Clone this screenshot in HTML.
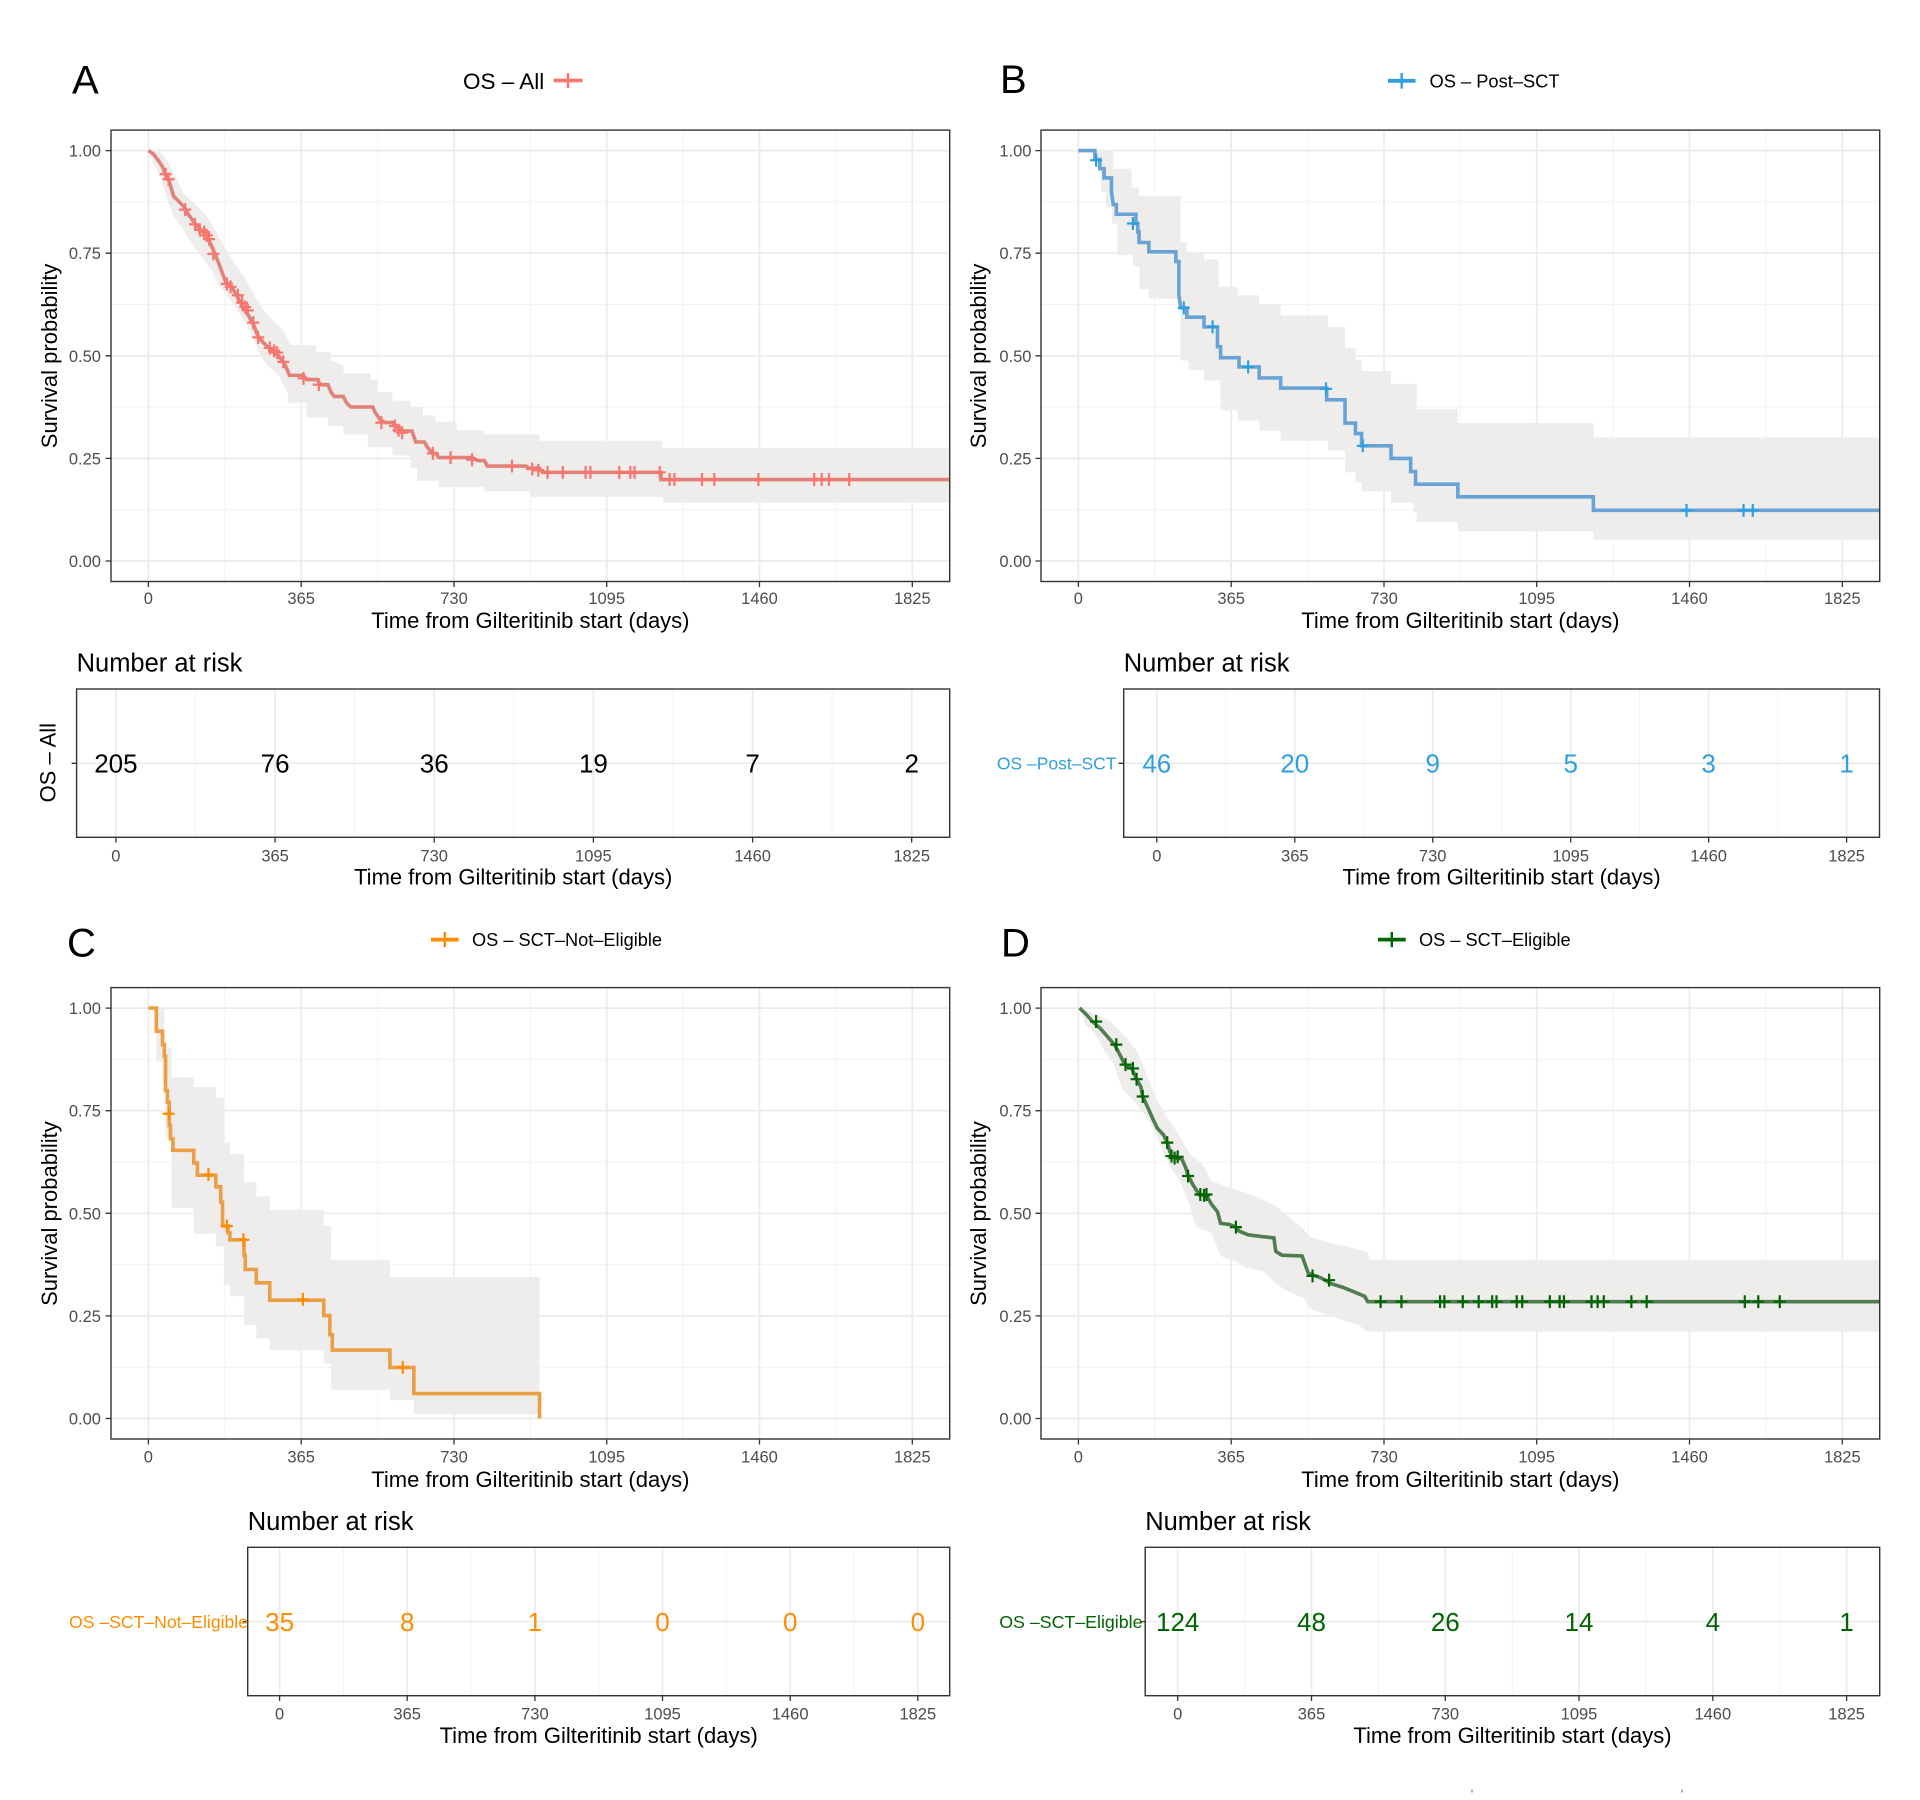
<!DOCTYPE html>
<html>
<head>
<meta charset="utf-8">
<style>
html,body{margin:0;padding:0;background:#fff;}
body{width:1920px;height:1800px;overflow:hidden;}
svg{display:block;}
.gmaj{stroke:#ebebeb;stroke-width:1.7;fill:none;}
.gmin{stroke:#f3f3f3;stroke-width:1;fill:none;}
.tk{stroke:#333;stroke-width:1.3;fill:none;}
.bd{fill:none;stroke:#333;stroke-width:1.4;}
.tl{font-size:16.5px;fill:#4d4d4d;}
.at{font-size:22px;fill:#000;}
.nr{font-size:25.5px;fill:#000;}
.num{font-size:26px;}
.band{fill:#eeedec;stroke:none;}
.crv{fill:none;stroke-width:3.6;stroke-linejoin:miter;}
.crs{fill:none;stroke-width:2.2;}
</style>
</head>
<body>
<svg xmlns="http://www.w3.org/2000/svg" width="1920" height="1800" viewBox="0 0 1920 1800" font-family="'Liberation Sans', Arial, Helvetica, sans-serif">
<defs>
<g id="grid">
<rect x="111" y="130.1" width="838.7" height="451.4" fill="#fff"/>
<path class="gmin" d="M224.8,130.1V581.5M377.6,130.1V581.5M530.4,130.1V581.5M683.1,130.1V581.5M835.9,130.1V581.5M111,201.9H949.7M111,304.5H949.7M111,407.1H949.7M111,509.7H949.7"/>
<path class="gmaj" d="M148.4,130.1V581.5M301.2,130.1V581.5M454,130.1V581.5M606.7,130.1V581.5M759.5,130.1V581.5M912.3,130.1V581.5M111,150.6H949.7M111,253.2H949.7M111,355.8H949.7M111,458.4H949.7M111,561H949.7"/>
</g>
<g id="frame">
<rect class="bd" x="111" y="130.1" width="838.7" height="451.4"/>
<path class="tk" d="M105.5,150.6H111M105.5,253.2H111M105.5,355.8H111M105.5,458.4H111M105.5,561H111M148.4,581.5V587M301.2,581.5V587M454,581.5V587M606.7,581.5V587M759.5,581.5V587M912.3,581.5V587"/>
</g>
</defs>

<!-- ================= PANEL A ================= -->
<text x="72" y="93.4" font-size="40" fill="#000">A</text>
<text x="463" y="89" font-size="22.5" fill="#000">OS – All</text>
<path d="M553.6,80.5H582.5" stroke="#F8766D" stroke-width="3.8"/>
<path d="M568,73V88" stroke="#F8766D" stroke-width="2.4"/>

<use href="#grid"/>
<g transform="matrix(0.61312 0 0 0.42176 0 0)">
<path class="band" d="M242,357 L262,362 L275,385 L290,430 L300,460 L315,480 L330,500 L345,530 L358,565 L372,600 L385,630 L400,660 L415,700 L430,735 L445,760 L460,780 L475,818 H515 V835 H540 V855 L560,865 V885 H605 V900 H615 V930 H640 V950 H670 V965 H690 V985 H710 V1000 H745 V1020 H790 V1030 H880 V1045 H1080 V1062 H1549 V1192 H1082 V1178 H865 V1165 H790 V1155 H715 V1140 H680 V1110 H670 V1080 H640 V1060 H600 V1030 H560 V1010 H535 V990 H500 V955 H470 V935 L455,890 L435,865 L420,830 L410,790 L398,760 L385,730 L370,700 L358,680 L345,640 L330,610 L318,590 L305,560 L292,530 L282,510 L272,470 L262,420 L250,385 Z"/>
<path class="crv" stroke="#e08279" vector-effect="non-scaling-stroke" d="M242,357 L250,365 L258,380 L265,395 L270,415 L276,430 L283,465 L292,478 L300,490 L308,510 L318,530 L328,545 L338,560 L344,580 L350,600 L357,625 L362,645 L368,668 L378,680 L385,698 L392,718 L400,735 L408,755 L415,775 L420,795 L428,810 L436,822 L445,832 L455,845 L462,858 L468,875 L472,890 H495 L500,900 H518 L522,912 H535 L540,930 L545,940 H560 L565,955 L572,965 H608 L612,978 L620,995 L628,1002 H640 L648,1012 L655,1022 H672 L678,1048 H692 L698,1062 L705,1075 H712 L715,1085 H770 L780,1092 H790 L795,1105 H858 L862,1110 H880 L885,1120 H1078 V1137 H1549"/>
<path class="crs" stroke="#F8766D" vector-effect="non-scaling-stroke" d="M270,413m-9.8,0h19.6m-9.8,-15.4v30.8M275,425m-9.8,0h19.6m-9.8,-15.4v30.8M302,497m-9.8,0h19.6m-9.8,-15.4v30.8M318,532m-9.8,0h19.6m-9.8,-15.4v30.8M326,545m-9.8,0h19.6m-9.8,-15.4v30.8M333,550m-9.8,0h19.6m-9.8,-15.4v30.8M337,558m-9.8,0h19.6m-9.8,-15.4v30.8M341,567m-9.8,0h19.6m-9.8,-15.4v30.8M348,602m-9.8,0h19.6m-9.8,-15.4v30.8M370,673m-9.8,0h19.6m-9.8,-15.4v30.8M376,680m-9.8,0h19.6m-9.8,-15.4v30.8M388,700m-9.8,0h19.6m-9.8,-15.4v30.8M395,718m-9.8,0h19.6m-9.8,-15.4v30.8M400,728m-9.8,0h19.6m-9.8,-15.4v30.8M404,736m-9.8,0h19.6m-9.8,-15.4v30.8M413,765m-9.8,0h19.6m-9.8,-15.4v30.8M421,800m-9.8,0h19.6m-9.8,-15.4v30.8M440,825m-9.8,0h19.6m-9.8,-15.4v30.8M447,832m-9.8,0h19.6m-9.8,-15.4v30.8M452,836m-9.8,0h19.6m-9.8,-15.4v30.8M462,858m-9.8,0h19.6m-9.8,-15.4v30.8M495,897m-9.8,0h19.6m-9.8,-15.4v30.8M520,912m-9.8,0h19.6m-9.8,-15.4v30.8M622,1002m-9.8,0h19.6m-9.8,-15.4v30.8M644,1010m-9.8,0h19.6m-9.8,-15.4v30.8M650,1020m-9.8,0h19.6m-9.8,-15.4v30.8M656,1026m-9.8,0h19.6m-9.8,-15.4v30.8M706,1075m-9.8,0h19.6m-9.8,-15.4v30.8M735,1085m-9.8,0h19.6m-9.8,-15.4v30.8M770,1090m-9.8,0h19.6m-9.8,-15.4v30.8M835,1105m-9.8,0h19.6m-9.8,-15.4v30.8M868,1112m-9.8,0h19.6m-9.8,-15.4v30.8M878,1115m-9.8,0h19.6m-9.8,-15.4v30.8M893,1120m-9.8,0h19.6m-9.8,-15.4v30.8M918,1120m-9.8,0h19.6m-9.8,-15.4v30.8M955,1120m-9.8,0h19.6m-9.8,-15.4v30.8M963,1120m-9.8,0h19.6m-9.8,-15.4v30.8M1010,1120m-9.8,0h19.6m-9.8,-15.4v30.8M1028,1120m-9.8,0h19.6m-9.8,-15.4v30.8M1035,1120m-9.8,0h19.6m-9.8,-15.4v30.8M1076,1120m-9.8,0h19.6m-9.8,-15.4v30.8M1092,1137m-9.8,0h19.6m-9.8,-15.4v30.8M1100,1137m-9.8,0h19.6m-9.8,-15.4v30.8M1145,1137m-9.8,0h19.6m-9.8,-15.4v30.8M1165,1137m-9.8,0h19.6m-9.8,-15.4v30.8M1237,1137m-9.8,0h19.6m-9.8,-15.4v30.8M1328,1137m-9.8,0h19.6m-9.8,-15.4v30.8M1340,1137m-9.8,0h19.6m-9.8,-15.4v30.8M1352,1137m-9.8,0h19.6m-9.8,-15.4v30.8M1385,1137m-9.8,0h19.6m-9.8,-15.4v30.8"/>
</g>
<use href="#frame"/>
<g class="tl" text-anchor="end">
<text x="101" y="156.6">1.00</text><text x="101" y="259.2">0.75</text><text x="101" y="361.8">0.50</text><text x="101" y="464.4">0.25</text><text x="101" y="567">0.00</text>
</g>
<g class="tl" text-anchor="middle">
<text x="148.4" y="604">0</text><text x="301.2" y="604">365</text><text x="454" y="604">730</text><text x="606.7" y="604">1095</text><text x="759.5" y="604">1460</text><text x="912.3" y="604">1825</text>
</g>
<text class="at" x="530.4" y="628" text-anchor="middle">Time from Gilteritinib start (days)</text>
<text class="at" font-size="21.6" transform="translate(57,355.9) rotate(-90)" text-anchor="middle">Survival probability</text>

<!-- Risk table A -->
<text class="nr" x="76.6" y="671.7">Number at risk</text>
<rect x="76.6" y="689" width="873.1" height="148.3" fill="#fff"/>
<path class="gmin" d="M195.5,689V837.3M354.6,689V837.3M513.8,689V837.3M673,689V837.3M832.1,689V837.3"/>
<path class="gmaj" d="M115.9,689V837.3M275.1,689V837.3M434.2,689V837.3M593.4,689V837.3M752.6,689V837.3M911.7,689V837.3M76.6,763.3H949.7"/>
<rect class="bd" x="76.6" y="689" width="873.1" height="148.3"/>
<path class="tk" d="M71.6,763.3H76.6M115.9,837.3V842.5M275.1,837.3V842.5M434.2,837.3V842.5M593.4,837.3V842.5M752.6,837.3V842.5M911.7,837.3V842.5"/>
<g class="num" text-anchor="middle" fill="#000">
<text x="115.9" y="772.6">205</text><text x="275.1" y="772.6">76</text><text x="434.2" y="772.6">36</text><text x="593.4" y="772.6">19</text><text x="752.6" y="772.6">7</text><text x="911.7" y="772.6">2</text>
</g>
<text font-size="22" fill="#000" transform="translate(55.5,762.7) rotate(-90)" text-anchor="middle">OS – All</text>
<g class="tl" text-anchor="middle">
<text x="115.9" y="861.7">0</text><text x="275.1" y="861.7">365</text><text x="434.2" y="861.7">730</text><text x="593.4" y="861.7">1095</text><text x="752.6" y="861.7">1460</text><text x="911.7" y="861.7">1825</text>
</g>
<text class="at" x="513.2" y="884.3" text-anchor="middle">Time from Gilteritinib start (days)</text>

<!-- ================= PANEL B ================= -->
<text x="1000" y="92.8" font-size="40" fill="#000">B</text>
<path d="M1388,80.8H1415.5" stroke="#2E9FDF" stroke-width="3.8"/>
<path d="M1401.7,73V88.6" stroke="#2E9FDF" stroke-width="2.4"/>
<text x="1429.5" y="87.7" font-size="18.3" fill="#000">OS – Post–SCT</text>

<use href="#grid" transform="translate(930,0)"/>
<g transform="matrix(0.61312 0 0 0.42176 960 0)">
<path class="band" d="M193,357 H250 V400 H280 V445 H292 V465 H360 V575 H370 V597 H398 V615 H422 V680 H453 V700 H488 V723 H523 V748 H600 V775 H628 V825 H645 V853 H655 V880 H703 V910 H745 V970 H812 V1003 H1033 V1037 H1500 V1280 H1033 V1260 H812 V1238 H745 V1215 H740 V1192 H703 V1165 H655 V1143 H645 V1120 H628 V1068 H600 V1045 H523 V1022 H488 V997 H453 V973 H425 V902 H398 V878 H373 V855 H360 V708 H308 V685 H293 V632 H282 V605 H257 V530 H248 V490 H238 V455 H230 V380 H220 V357 Z"/>
<path class="crv" stroke="#69a3d5" vector-effect="non-scaling-stroke" d="M193,357 H220 V378 H228 V400 H235 V422 H247 V455 L250,485 H255 V508 H287 V530 H290 V550 H292 V575 H308 V597 H352 V620 H357 V700 L360,730 H370 V752 H398 V775 H420 V822 H425 V848 H455 V870 H488 V896 H523 V920 H598 V948 H628 V1003 H645 V1028 H655 V1057 H703 V1087 H735 V1118 H743 V1148 H812 V1178 H1033 V1210 H1500"/>
<path class="crs" stroke="#2E9FDF" vector-effect="non-scaling-stroke" d="M222,380m-9.8,0h19.6m-9.8,-15.4v30.8M282,530m-9.8,0h19.6m-9.8,-15.4v30.8M365,730m-9.8,0h19.6m-9.8,-15.4v30.8M412,775m-9.8,0h19.6m-9.8,-15.4v30.8M470,870m-9.8,0h19.6m-9.8,-15.4v30.8M597,922m-9.8,0h19.6m-9.8,-15.4v30.8M657,1057m-9.8,0h19.6m-9.8,-15.4v30.8M1185,1210m-9.8,0h19.6m-9.8,-15.4v30.8M1278,1210m-9.8,0h19.6m-9.8,-15.4v30.8M1293,1210m-9.8,0h19.6m-9.8,-15.4v30.8"/>
</g>
<use href="#frame" transform="translate(930,0)"/>
<g class="tl" text-anchor="end">
<text x="1031.5" y="156.6">1.00</text><text x="1031.5" y="259.2">0.75</text><text x="1031.5" y="361.8">0.50</text><text x="1031.5" y="464.4">0.25</text><text x="1031.5" y="567">0.00</text>
</g>
<g class="tl" text-anchor="middle">
<text x="1078.4" y="604">0</text><text x="1231.2" y="604">365</text><text x="1384" y="604">730</text><text x="1536.7" y="604">1095</text><text x="1689.5" y="604">1460</text><text x="1842.3" y="604">1825</text>
</g>
<text class="at" x="1460.4" y="628" text-anchor="middle">Time from Gilteritinib start (days)</text>
<text class="at" font-size="21.6" transform="translate(986,355.9) rotate(-90)" text-anchor="middle">Survival probability</text>

<!-- Risk table B -->
<text class="nr" x="1123.7" y="671.7">Number at risk</text>
<rect x="1123.7" y="689" width="755.8" height="148.3" fill="#fff"/>
<path class="gmin" d="M1225.8,689V837.3M1363.7,689V837.3M1501.7,689V837.3M1639.6,689V837.3M1777.6,689V837.3"/>
<path class="gmaj" d="M1156.8,689V837.3M1294.8,689V837.3M1432.7,689V837.3M1570.7,689V837.3M1708.6,689V837.3M1846.6,689V837.3M1123.7,763.3H1879.5"/>
<rect class="bd" x="1123.7" y="689" width="755.8" height="148.3"/>
<path class="tk" d="M1118.5,763.3H1123.7M1156.8,837.3V842.5M1294.8,837.3V842.5M1432.7,837.3V842.5M1570.7,837.3V842.5M1708.6,837.3V842.5M1846.6,837.3V842.5"/>
<text x="1116.5" y="769.5" font-size="17.5" fill="#2E9FDF" text-anchor="end">OS –Post–SCT</text>
<g class="num" text-anchor="middle" fill="#2E9FDF">
<text x="1156.8" y="772.6">46</text><text x="1294.8" y="772.6">20</text><text x="1432.7" y="772.6">9</text><text x="1570.7" y="772.6">5</text><text x="1708.6" y="772.6">3</text><text x="1846.6" y="772.6">1</text>
</g>
<g class="tl" text-anchor="middle">
<text x="1156.8" y="861.7">0</text><text x="1294.8" y="861.7">365</text><text x="1432.7" y="861.7">730</text><text x="1570.7" y="861.7">1095</text><text x="1708.6" y="861.7">1460</text><text x="1846.6" y="861.7">1825</text>
</g>
<text class="at" x="1501.6" y="884.3" text-anchor="middle">Time from Gilteritinib start (days)</text>

<!-- ================= PANEL C ================= -->
<text x="67" y="956.5" font-size="40" fill="#000">C</text>
<path d="M431,939.6H458.6" stroke="#FF8C00" stroke-width="3.8"/>
<path d="M444.8,932V947.2" stroke="#FF8C00" stroke-width="2.4"/>
<text x="472" y="946" font-size="18.2" fill="#000">OS – SCT–Not–Eligible</text>

<use href="#grid" transform="translate(0,857.5)"/>
<g transform="matrix(0.61312 0 0 0.38428 0 898.58)">
<path class="band" d="M242,285 H268 V390 H280 V465 H316 V490 H352 V518 H365 V635 H375 V665 H398 V738 H418 V775 H440 V810 H528 V852 H540 V940 H636 V985 H880 V1342 H675 V1305 H636 V1278 H540 V1210 H528 V1175 H440 V1145 H418 V1110 H398 V1035 H375 V1005 H365 V905 H352 V872 H316 V805 H280 V620 H270 V480 H265 V425 H255 V285 Z"/>
<path class="crv" stroke="#eb9f45" vector-effect="non-scaling-stroke" d="M242,285 H255 V345 H265 V380 H268 V410 H270 V500 H273 V530 H276 V590 H278 V625 H282 V655 H316 V688 H322 V720 H352 V750 H360 V790 H363 V852 H372 V870 H375 V888 H398 V928 H400 V965 H418 V1000 H440 V1045 H528 V1085 H538 V1135 H542 V1175 H636 V1220 H675 V1288 H880 V1353"/>
<path class="crs" stroke="#FF8C00" vector-effect="non-scaling-stroke" d="M275,560m-9.8,0h19.6m-9.8,-16.9v33.8M340,718m-9.8,0h19.6m-9.8,-16.9v33.8M370,852m-9.8,0h19.6m-9.8,-16.9v33.8M397,888m-9.8,0h19.6m-9.8,-16.9v33.8M494,1043m-9.8,0h19.6m-9.8,-16.9v33.8M657,1220m-9.8,0h19.6m-9.8,-16.9v33.8"/>
</g>
<use href="#frame" transform="translate(0,857.5)"/>
<g class="tl" text-anchor="end">
<text x="101" y="1014.1">1.00</text><text x="101" y="1116.7">0.75</text><text x="101" y="1219.3">0.50</text><text x="101" y="1321.9">0.25</text><text x="101" y="1424.5">0.00</text>
</g>
<g class="tl" text-anchor="middle">
<text x="148.4" y="1462.5">0</text><text x="301.2" y="1462.5">365</text><text x="454" y="1462.5">730</text><text x="606.7" y="1462.5">1095</text><text x="759.5" y="1462.5">1460</text><text x="912.3" y="1462.5">1825</text>
</g>
<text class="at" x="530.4" y="1487" text-anchor="middle">Time from Gilteritinib start (days)</text>
<text class="at" font-size="21.6" transform="translate(57,1213.6) rotate(-90)" text-anchor="middle">Survival probability</text>

<!-- Risk table C -->
<text class="nr" x="247.7" y="1530">Number at risk</text>
<rect x="247.7" y="1547.3" width="702" height="148.4" fill="#fff"/>
<path class="gmin" d="M343.4,1547.3V1695.7M471.1,1547.3V1695.7M598.7,1547.3V1695.7M726.4,1547.3V1695.7M854,1547.3V1695.7"/>
<path class="gmaj" d="M279.6,1547.3V1695.7M407.2,1547.3V1695.7M534.9,1547.3V1695.7M662.5,1547.3V1695.7M790.2,1547.3V1695.7M917.8,1547.3V1695.7M247.7,1621.6H949.7"/>
<rect class="bd" x="247.7" y="1547.3" width="702" height="148.4"/>
<path class="tk" d="M242.7,1621.6H247.7M279.6,1695.7V1701M407.2,1695.7V1701M534.9,1695.7V1701M662.5,1695.7V1701M790.2,1695.7V1701M917.8,1695.7V1701"/>
<text x="248" y="1628" font-size="17.6" fill="#FF8C00" text-anchor="end">OS –SCT–Not–Eligible</text>
<g class="num" text-anchor="middle" fill="#FF8C00">
<text x="279.6" y="1631">35</text><text x="407.2" y="1631">8</text><text x="534.9" y="1631">1</text><text x="662.5" y="1631">0</text><text x="790.2" y="1631">0</text><text x="917.8" y="1631">0</text>
</g>
<g class="tl" text-anchor="middle">
<text x="279.6" y="1719.5">0</text><text x="407.2" y="1719.5">365</text><text x="534.9" y="1719.5">730</text><text x="662.5" y="1719.5">1095</text><text x="790.2" y="1719.5">1460</text><text x="917.8" y="1719.5">1825</text>
</g>
<text class="at" x="598.7" y="1743" text-anchor="middle">Time from Gilteritinib start (days)</text>

<!-- ================= PANEL D ================= -->
<text x="1001" y="956.5" font-size="40" fill="#000">D</text>
<path d="M1378,939.6H1405.7" stroke="#006400" stroke-width="3.8"/>
<path d="M1391.8,932V947.2" stroke="#006400" stroke-width="2.4"/>
<text x="1419" y="946" font-size="18.2" fill="#000">OS – SCT–Eligible</text>

<use href="#grid" transform="translate(930,857.5)"/>
<g transform="matrix(0.61312 0 0 0.38428 960 898.58)">
<path class="band" d="M195,285 L220,300 L245,320 L270,360 L290,400 L305,460 L320,520 L340,575 L355,610 L375,665 L395,690 L410,735 L445,755 L465,765 L490,780 L515,800 L530,820 L560,860 L570,880 L600,895 L630,905 L665,920 L668,940 L1500,940 L1500,1127 L665,1127 L650,1110 L630,1100 L600,1085 L570,1065 L560,1040 L530,1018 L510,995 L495,970 L465,960 L450,945 L425,930 L410,870 L385,855 L375,800 L360,740 L340,690 L330,655 L320,615 L305,570 L285,530 L265,495 L250,430 L235,395 L220,350 L205,330 Z"/>
<path class="crv" stroke="#4f7d4f" vector-effect="non-scaling-stroke" d="M195,285 L205,300 L215,318 L230,340 L242,362 L252,380 L262,410 L268,430 L280,442 L288,470 L295,490 L298,515 L308,550 L315,575 L322,598 L332,615 L338,635 L345,672 L362,678 L368,700 L372,720 L380,745 L390,770 L402,772 L410,795 L420,815 L425,845 L440,848 L450,855 L455,865 L470,875 L495,880 L512,883 L515,918 L525,928 L558,930 L568,975 L590,988 L605,1002 L625,1012 L645,1025 L660,1035 L665,1049 H1500"/>
<path class="crs" stroke="#006400" vector-effect="non-scaling-stroke" d="M222,320m-9.8,0h19.6m-9.8,-16.9v33.8M255,380m-9.8,0h19.6m-9.8,-16.9v33.8M270,432m-9.8,0h19.6m-9.8,-16.9v33.8M282,442m-9.8,0h19.6m-9.8,-16.9v33.8M288,470m-9.8,0h19.6m-9.8,-16.9v33.8M298,515m-9.8,0h19.6m-9.8,-16.9v33.8M338,635m-9.8,0h19.6m-9.8,-16.9v33.8M345,670m-9.8,0h19.6m-9.8,-16.9v33.8M350,675m-9.8,0h19.6m-9.8,-16.9v33.8M355,672m-9.8,0h19.6m-9.8,-16.9v33.8M372,722m-9.8,0h19.6m-9.8,-16.9v33.8M392,770m-9.8,0h19.6m-9.8,-16.9v33.8M398,772m-9.8,0h19.6m-9.8,-16.9v33.8M402,770m-9.8,0h19.6m-9.8,-16.9v33.8M450,855m-9.8,0h19.6m-9.8,-16.9v33.8M575,982m-9.8,0h19.6m-9.8,-16.9v33.8M602,993m-9.8,0h19.6m-9.8,-16.9v33.8M686,1049m-9.8,0h19.6m-9.8,-16.9v33.8M720,1049m-9.8,0h19.6m-9.8,-16.9v33.8M783,1049m-9.8,0h19.6m-9.8,-16.9v33.8M790,1049m-9.8,0h19.6m-9.8,-16.9v33.8M820,1049m-9.8,0h19.6m-9.8,-16.9v33.8M846,1049m-9.8,0h19.6m-9.8,-16.9v33.8M868,1049m-9.8,0h19.6m-9.8,-16.9v33.8M875,1049m-9.8,0h19.6m-9.8,-16.9v33.8M908,1049m-9.8,0h19.6m-9.8,-16.9v33.8M917,1049m-9.8,0h19.6m-9.8,-16.9v33.8M962,1049m-9.8,0h19.6m-9.8,-16.9v33.8M978,1049m-9.8,0h19.6m-9.8,-16.9v33.8M985,1049m-9.8,0h19.6m-9.8,-16.9v33.8M1030,1049m-9.8,0h19.6m-9.8,-16.9v33.8M1040,1049m-9.8,0h19.6m-9.8,-16.9v33.8M1050,1049m-9.8,0h19.6m-9.8,-16.9v33.8M1095,1049m-9.8,0h19.6m-9.8,-16.9v33.8M1120,1049m-9.8,0h19.6m-9.8,-16.9v33.8M1280,1049m-9.8,0h19.6m-9.8,-16.9v33.8M1302,1049m-9.8,0h19.6m-9.8,-16.9v33.8M1337,1049m-9.8,0h19.6m-9.8,-16.9v33.8"/>
</g>
<use href="#frame" transform="translate(930,857.5)"/>
<g class="tl" text-anchor="end">
<text x="1031.5" y="1014.1">1.00</text><text x="1031.5" y="1116.7">0.75</text><text x="1031.5" y="1219.3">0.50</text><text x="1031.5" y="1321.9">0.25</text><text x="1031.5" y="1424.5">0.00</text>
</g>
<g class="tl" text-anchor="middle">
<text x="1078.4" y="1462.5">0</text><text x="1231.2" y="1462.5">365</text><text x="1384" y="1462.5">730</text><text x="1536.7" y="1462.5">1095</text><text x="1689.5" y="1462.5">1460</text><text x="1842.3" y="1462.5">1825</text>
</g>
<text class="at" x="1460.4" y="1487" text-anchor="middle">Time from Gilteritinib start (days)</text>
<text class="at" font-size="21.6" transform="translate(986,1213.6) rotate(-90)" text-anchor="middle">Survival probability</text>

<!-- Risk table D -->
<text class="nr" x="1145.2" y="1530">Number at risk</text>
<rect x="1145.2" y="1547.3" width="734.5" height="148.4" fill="#fff"/>
<path class="gmin" d="M1244.6,1547.3V1695.7M1378.4,1547.3V1695.7M1512.2,1547.3V1695.7M1645.9,1547.3V1695.7M1779.7,1547.3V1695.7"/>
<path class="gmaj" d="M1177.7,1547.3V1695.7M1311.5,1547.3V1695.7M1445.3,1547.3V1695.7M1579,1547.3V1695.7M1712.8,1547.3V1695.7M1846.6,1547.3V1695.7M1145.2,1621.6H1879.7"/>
<rect class="bd" x="1145.2" y="1547.3" width="734.5" height="148.4"/>
<path class="tk" d="M1140.2,1621.6H1145.2M1177.7,1695.7V1701M1311.5,1695.7V1701M1445.3,1695.7V1701M1579,1695.7V1701M1712.8,1695.7V1701M1846.6,1695.7V1701"/>
<text x="1142.5" y="1628" font-size="17.8" fill="#006400" text-anchor="end">OS –SCT–Eligible</text>
<g class="num" text-anchor="middle" fill="#006400">
<text x="1177.7" y="1631">124</text><text x="1311.5" y="1631">48</text><text x="1445.3" y="1631">26</text><text x="1579" y="1631">14</text><text x="1712.8" y="1631">4</text><text x="1846.6" y="1631">1</text>
</g>
<g class="tl" text-anchor="middle">
<text x="1177.7" y="1719.5">0</text><text x="1311.5" y="1719.5">365</text><text x="1445.3" y="1719.5">730</text><text x="1579" y="1719.5">1095</text><text x="1712.8" y="1719.5">1460</text><text x="1846.6" y="1719.5">1825</text>
</g>
<text class="at" x="1512.5" y="1743" text-anchor="middle">Time from Gilteritinib start (days)</text>

<!-- tiny marks at bottom -->
<path d="M1472,1789.5V1792.5M1682,1789.5V1792.5" stroke="#666" stroke-width="1"/>
</svg>
</body>
</html>
